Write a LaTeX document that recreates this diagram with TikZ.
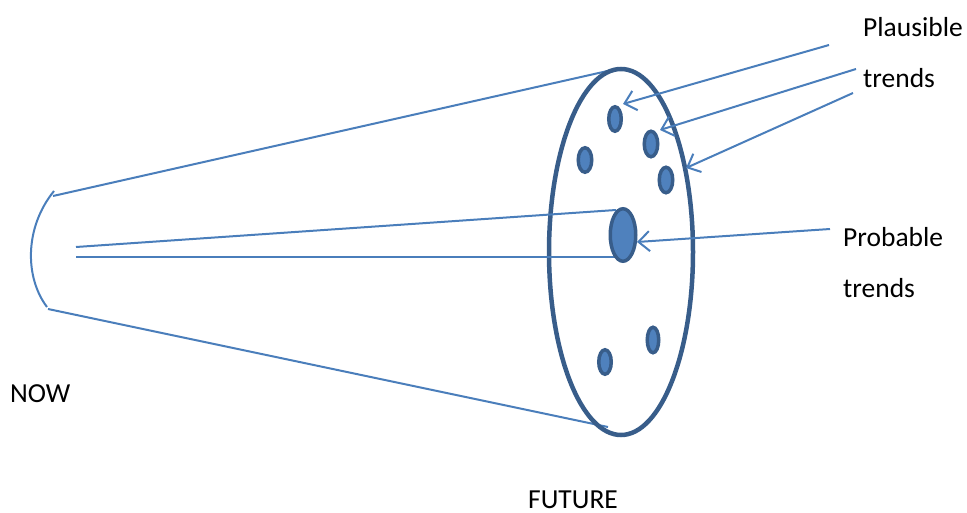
\documentclass[tikz,border=0pt]{standalone}
\usepackage{fontspec}
\setmainfont{Carlito}
\usetikzlibrary{shapes.geometric,arrows.meta}
\definecolor{thinblue}{RGB}{74,126,187}
\definecolor{darkblue}{RGB}{56,93,138}
\definecolor{fillblue}{RGB}{79,129,189}
\tikzset{
  thin line/.style={draw=thinblue, line width=2pt},
  pointer/.style={thin line, -{Straight Barb[length=11pt,width=20pt,line width=2pt]}},
  dot/.style={ellipse, draw=darkblue, fill=fillblue, line width=3.5pt, inner sep=0pt, outer sep=0pt},
  disc/.style={ellipse, draw=darkblue, line width=4.5pt, inner sep=0pt, outer sep=0pt, minimum width=144pt, minimum height=366pt},
  label/.style={anchor=base west, inner sep=0pt, font=\fontsize{27.5}{32}\selectfont}
}
\begin{document}
\begin{tikzpicture}[x=1pt,y=-1pt]
\useasboundingbox (0,0) rectangle (967,513);
% cone
\coordinate (ct) at (53,196);
\coordinate (cb) at (48,309);
\coordinate (at) at (54,191);
\coordinate (ab) at (47,307);
\coordinate (et) at (612,70);
\coordinate (eb) at (608,427);
\draw[thin line] (at) .. controls (24,228) and (25,278) .. (ab);
\draw[thin line] (ct) -- (et);
\draw[thin line] (cb) -- (eb);
% future disc
\node[disc] (future) at (621,252) {};
% middle lines
\coordinate (m1s) at (76,247);
\coordinate (m1e) at (616,210);
\coordinate (m2s) at (76,257);
\coordinate (m2e) at (616,257);
\draw[thin line] (m1s) -- (m1e);
\draw[thin line] (m2s) -- (m2e);
% dots
\node[dot, minimum width=12.5pt, minimum height=24.5pt] (d1) at (615,119) {};
\node[dot, minimum width=13.5pt, minimum height=25.5pt] (d2) at (651,144) {};
\node[dot, minimum width=13.5pt, minimum height=24.5pt] (d3) at (585,160) {};
\node[dot, minimum width=13.5pt, minimum height=25.5pt] (d4) at (666,180) {};
\node[dot, minimum width=25.5pt, minimum height=52.5pt] (big) at (623,235) {};
\node[dot, minimum width=12.5pt, minimum height=24.5pt] (d5) at (605,362) {};
\node[dot, minimum width=11.5pt, minimum height=25.5pt] (d6) at (653,340) {};
% labels
\node[label] (plaus) at (863,37) {Plausible};
\node[label] (trends1) at (863,88) {trends};
\node[label] (prob) at (843,247) {Probable};
\node[label] (trends2) at (843,298) {trends};
\node[label] (now) at (10,402) {NOW};
\node[label] (fut) at (528,508) {FUTURE};
% pointers
\coordinate (p1s) at (829,45);
\coordinate (p1e) at (623,104);
\coordinate (p2s) at (856,69);
\coordinate (p2e) at (660,130);
\coordinate (p3s) at (853,93);
\coordinate (p3e) at (686,168);
\coordinate (p4s) at (830,229);
\coordinate (p4e) at (637,242);
\draw[pointer] (p1s) -- (p1e);
\draw[pointer] (p2s) -- (p2e);
\draw[pointer] (p3s) -- (p3e);
\draw[pointer] (p4s) -- (p4e);
\end{tikzpicture}
\end{document}
